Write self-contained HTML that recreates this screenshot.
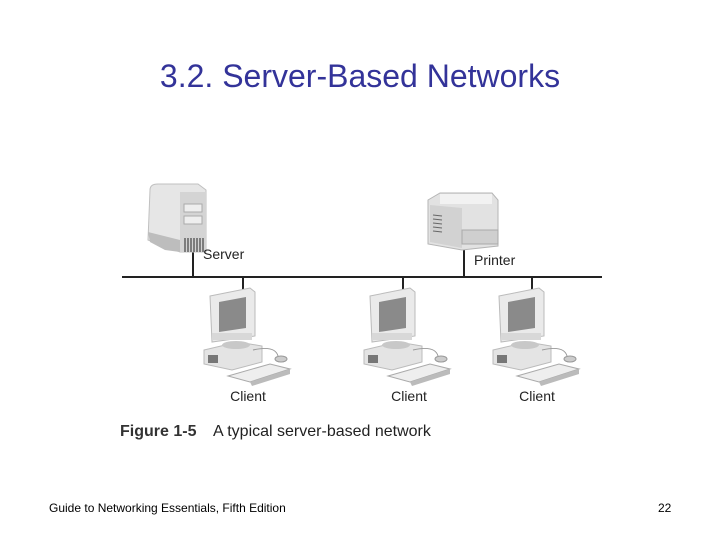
<!DOCTYPE html>
<html><head><meta charset="utf-8"><style>
html,body{margin:0;padding:0;background:#fff;}
body{width:720px;height:540px;position:relative;overflow:hidden;font-family:"Liberation Sans",sans-serif;}
.t{position:absolute;left:0;width:720px;top:58px;text-align:center;font-size:32px;color:#333399;}
.f{position:absolute;top:501px;font-size:12px;color:#000;}
</style></head><body>
<div class="t">3.2. Server-Based Networks</div>
<svg width="720" height="540" style="position:absolute;left:0;top:0" xmlns="http://www.w3.org/2000/svg">
<defs>
<g id="cl">
  <line x1="243" y1="277" x2="243" y2="291" stroke="#222" stroke-width="2"/>
  <path d="M210 296 L250 288 L255 292 L255 336 L212 342 Z" fill="#eaeaea" stroke="#bbb"/>
  <path d="M219 302 L246 297 L246 328 L219 332 Z" fill="#8a8a8a"/>
  <rect x="212" y="333" width="40" height="7" fill="#d8d8d8"/>
  <path d="M204 350 L238 342 L262 346 L262 362 L232 370 L204 364 Z" fill="#e4e4e4" stroke="#bbb"/>
  <ellipse cx="236" cy="345" rx="14" ry="4" fill="#c8c8c8"/>
  <rect x="208" y="355" width="10" height="8" fill="#777"/>
  <path d="M253 350 Q275 345 278 356" stroke="#999" fill="none"/>
  <ellipse cx="281" cy="359" rx="6" ry="3" fill="#ccc" stroke="#999"/>
  <path d="M228 376 L270 364 L290 369 L250 382 Z" fill="#eee" stroke="#aaa"/>
  <path d="M250 382 L290 369 L290 374 L252 386 Z" fill="#bbb"/>
</g>
</defs>
<line x1="122" y1="277" x2="602" y2="277" stroke="#222" stroke-width="2"/>
<line x1="193" y1="248" x2="193" y2="277" stroke="#222" stroke-width="2"/>
<line x1="464" y1="246" x2="464" y2="277" stroke="#222" stroke-width="2"/>
<path d="M150 190 Q150 184 158 184 L198 184 L206 190 L206 252 L180 252 L148 240 Z" fill="#e6e6e6" stroke="#c0c0c0"/>
<rect x="180" y="192" width="26" height="60" fill="#d4d4d4"/>
<rect x="184" y="204" width="18" height="8" fill="#eee" stroke="#aaa"/>
<rect x="184" y="216" width="18" height="8" fill="#eee" stroke="#aaa"/>
<path d="M148 232 L180 240 L180 252 L165 250 L150 242 Z" fill="#bdbdbd"/>
<g stroke="#444" stroke-width="1.2"><line x1="185" y1="238" x2="185" y2="252"/><line x1="188" y1="238" x2="188" y2="252"/><line x1="191" y1="238" x2="191" y2="252"/><line x1="194" y1="238" x2="194" y2="252"/><line x1="197" y1="238" x2="197" y2="252"/><line x1="200" y1="238" x2="200" y2="252"/><line x1="203" y1="238" x2="203" y2="252"/></g>
<path d="M428 200 L440 193 L492 193 L498 200 L498 246 L462 250 L428 244 Z" fill="#e2e2e2" stroke="#b5b5b5"/>
<rect x="440" y="194" width="52" height="10" fill="#f2f2f2"/>
<path d="M430 205 L462 208 L462 248 L430 242 Z" fill="#d2d2d2"/>
<g stroke="#666"><line x1="433" y1="215" x2="442" y2="216"/><line x1="433" y1="219" x2="442" y2="220"/><line x1="433" y1="223" x2="442" y2="224"/><line x1="433" y1="227" x2="442" y2="228"/><line x1="433" y1="231" x2="442" y2="232"/></g>
<rect x="462" y="230" width="36" height="14" fill="#cfcfcf" stroke="#aaa"/>
<use href="#cl"/>
<use href="#cl" transform="translate(160,0)"/>
<use href="#cl" transform="translate(289,0)"/>
<g font-family="Liberation Sans, sans-serif" font-size="14" fill="#222">
<text x="203" y="259">Server</text>
<text x="474" y="265">Printer</text>
<text x="248" y="401" text-anchor="middle">Client</text>
<text x="409" y="401" text-anchor="middle">Client</text>
<text x="537" y="401" text-anchor="middle">Client</text>
<text x="120" y="436" font-size="16" font-weight="bold" fill="#333">Figure 1-5</text>
<text x="213" y="436" font-size="16">A typical server-based network</text>
</g>
</svg>
<div class="f" style="left:49px">Guide to Networking Essentials, Fifth Edition</div>
<div class="f" style="left:658px">22</div>
</body></html>
